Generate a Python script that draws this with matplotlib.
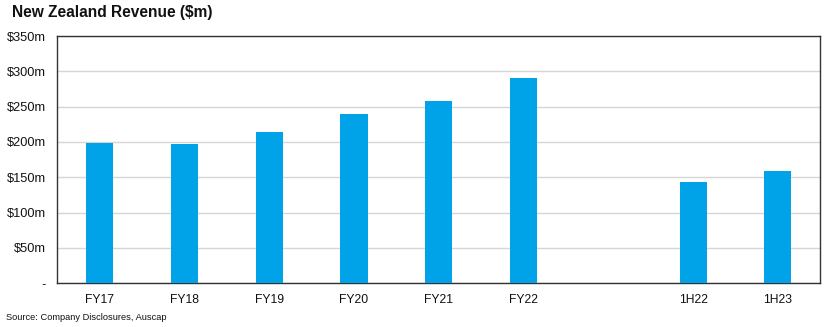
import numpy as np
import matplotlib.pyplot as plt
from matplotlib.ticker import FuncFormatter

# Revenue by period, $m
categories = ['FY17', 'FY18', 'FY19', 'FY20', 'FY21', 'FY22', '', '1H22', '1H23']
revenue = [198.5, 197, 214, 240, 258, 290, np.nan, 143, 159]
yticks = [0, 50, 100, 150, 200, 250, 300, 350]

BAR_COLOR = '#00A3E8'

plt.rcParams['font.family'] = ['Liberation Sans', 'DejaVu Sans']

fig = plt.figure(figsize=(8.34, 3.27), dpi=100)
ax = fig.add_axes([57.3 / 834, 1 - 283.3 / 327, (820.3 - 57.3) / 834, (283.3 - 36) / 327])

x = np.arange(len(categories))
vals = np.array(revenue, dtype=float)
mask = ~np.isnan(vals)
ax.bar(x[mask], vals[mask], width=0.32, color=BAR_COLOR, zorder=3)

ax.set_xlim(-0.5, len(categories) - 0.5)
ax.set_ylim(0, 350)
ax.set_yticks(yticks)
ax.yaxis.set_major_formatter(FuncFormatter(lambda v, p: '-' if v == 0 else f'${v:.0f}m'))
ax.set_xticks(x)
ax.set_xticklabels(categories, fontsize=8.7)

ax.grid(axis='y', color='#D6D6D6', linewidth=1.0, zorder=0)
ax.tick_params(axis='both', length=0, colors='#111111')
ax.tick_params(axis='y', labelsize=9.2, pad=8)
ax.tick_params(axis='x', pad=8)
for s in ax.spines.values():
    s.set_color('#333333')
    s.set_linewidth(1.0)

fig.text(12 / 834, 1 - 13 / 327, 'New Zealand Revenue ($m)', fontsize=11.2, fontweight='bold',
         va='center', ha='left', color='#111111')
fig.text(6 / 834, 1 - 317 / 327, 'Source: Company Disclosures, Auscap', fontsize=6.7,
         va='center', ha='left', color='#111111')

fig.savefig('out.png', dpi=100)
